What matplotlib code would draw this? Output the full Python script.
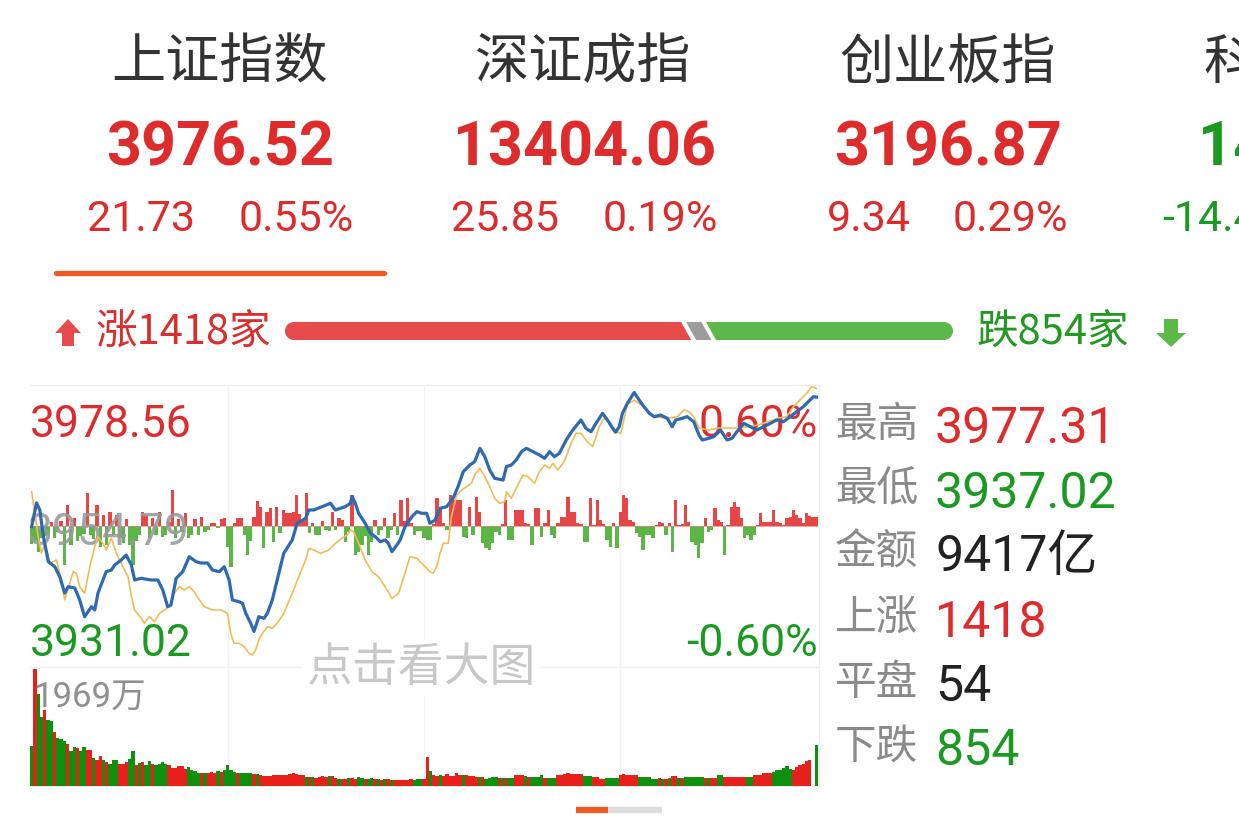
import matplotlib.pyplot as plt
from matplotlib.patches import Polygon, Circle

W, H = 1239, 836
CJK = 'Noto Sans CJK SC'
NUM = ['Roboto', 'Noto Sans CJK SC', 'DejaVu Sans']
plt.rcParams['font.family'] = NUM

RED = '#de2b2b'
GREEN = '#1b9a22'
DARK = '#333333'
GREY = '#8a8a8a'

# ---- header: index quotes ----
titles = ['上证指数', '深证成指', '创业板指', '科创50']
prices = ['3976.52', '13404.06', '3196.87', '1441.85']
changes = ['21.73', '25.85', '9.34', '-14.47']
pcts = ['0.55%', '0.19%', '0.29%', '-0.99%']
quote_up = [True, True, True, False]

# ---- market breadth ----
n_up, n_flat, n_down = 1418, 54, 854

# ---- intraday (minutes 0..240) ----
prev_close = 3954.79
price_hi, price_lo = 3978.56, 3931.02
day_high, day_low = 3977.31, 3937.02
amount = '9417亿'

blue_t = [0, 1.5, 2.5, 3.6, 5.1, 7.1, 8.6, 10.1, 11.2, 13.2, 14.7, 16.2, 18.3, 19.3, 20.3, 22.8, 24.4, 25.4,
          27.4, 28.9, 30.5, 31.5, 33.5, 36.5, 38.6, 40.1, 41.6, 42.6, 44.2, 46.2, 48.2, 50.3, 51.8, 53.8, 55.3,
          57.4, 58.9, 60.4, 61.4, 63.4, 64.5, 65.5, 67.0, 68.0, 69.5, 71.1, 72.1, 73.6, 75.1, 77.1, 79.7, 81.2,
          83.8, 84.8, 86.3, 88.8, 91.4, 92.9, 94.4, 95.9, 97.5, 98.0, 99.0, 100.0, 102.0, 103.6, 105.1, 106.6,
          108.1, 109.1, 110.2, 111.7, 112.7, 114.2, 116.3, 117.8, 119.3, 120.8, 121.8, 123.4, 124.9, 126.9,
          128.9, 130.4, 132.0, 134.0, 135.5, 137.1, 138.6, 140.1, 141.6, 144.2, 145.2, 146.7, 148.2, 149.8,
          151.3, 153.3, 155.3, 156.9, 158.4, 159.9, 161.4, 163.5, 165.5, 168.0, 169.5, 171.1, 172.6, 174.6,
          176.1, 177.7, 178.6, 179.7, 180.7, 182.2, 184.3, 185.8, 187.3, 188.9, 190.4, 192.4, 194.4, 195.9,
          197.0, 199.0, 200.5, 202.5, 204.1, 205.1, 207.1, 208.6, 210.7, 212.7, 214.2, 215.7, 217.8, 219.8,
          221.8, 223.9, 225.9, 227.9, 229.9, 232.0, 234.0, 236.0, 238.1, 239.1, 240]
blue_p = [3954.67, 3958.67, 3957.49, 3952.99, 3948.77, 3947.93, 3946.24, 3943.50, 3944.56, 3944.34, 3942.32,
          3939.50, 3941.19, 3940.63, 3943.50, 3947.09, 3947.37, 3948.22, 3949.06, 3949.90, 3948.22, 3945.69,
          3945.97, 3945.69, 3945.69, 3944.00, 3941.19, 3941.47, 3945.97, 3947.09, 3949.61, 3948.77, 3948.55,
          3948.55, 3947.37, 3947.09, 3947.93, 3945.69, 3942.32, 3942.03, 3941.76, 3940.07, 3938.39, 3937.02,
          3939.50, 3939.23, 3940.07, 3942.32, 3945.69, 3950.19, 3952.43, 3955.25, 3956.09, 3957.49, 3957.49,
          3958.04, 3958.62, 3957.49, 3957.77, 3958.04, 3958.62, 3959.73, 3958.62, 3956.93, 3955.25, 3953.56,
          3952.99, 3952.14, 3952.43, 3951.87, 3950.46, 3951.59, 3952.43, 3954.67, 3956.36, 3957.20, 3956.93,
          3956.93, 3955.25, 3955.80, 3957.77, 3958.04, 3959.46, 3961.42, 3963.94, 3965.07, 3965.63, 3967.89,
          3966.47, 3964.23, 3962.83, 3962.54, 3964.79, 3965.07, 3965.92, 3967.32, 3967.89, 3967.32, 3966.76,
          3966.20, 3967.32, 3966.47, 3967.05, 3969.29, 3970.97, 3972.66, 3971.26, 3970.69, 3972.10, 3973.79,
          3972.66, 3971.26, 3970.60, 3971.53, 3973.79, 3975.47, 3977.31, 3976.03, 3974.90, 3973.79, 3973.22,
          3973.50, 3972.95, 3971.53, 3972.66, 3972.95, 3973.22, 3972.37, 3970.13, 3969.29, 3969.57, 3969.84,
          3970.97, 3969.29, 3969.57, 3970.69, 3972.10, 3971.53, 3970.97, 3971.53, 3972.10, 3972.66, 3972.37,
          3973.22, 3974.06, 3974.90, 3976.03, 3976.59, 3976.52]

yel_t = [0, 1.0, 2.0, 3.0, 4.1, 5.6, 7.6, 9.1, 10.1, 11.2, 12.7, 13.7, 14.7, 16.2, 17.8, 19.3, 20.3, 21.8, 22.8,
         24.4, 25.9, 27.9, 29.5, 30.5, 31.5, 33.5, 34.5, 36.0, 37.6, 39.1, 40.6, 42.1, 43.6, 45.2, 46.7, 48.2,
         49.7, 51.3, 52.8, 55.3, 57.9, 59.9, 60.9, 61.9, 63.4, 65.0, 66.5, 67.5, 68.5, 69.5, 70.6, 72.1, 73.6,
         75.1, 77.1, 79.7, 81.7, 83.8, 84.8, 86.3, 88.3, 90.9, 92.9, 94.9, 96.5, 97.5, 98.5, 100.0, 102.0,
         104.1, 106.1, 108.1, 110.2, 112.2, 114.2, 115.7, 117.8, 120.3, 121.8, 122.8, 123.9, 124.9, 125.9,
         127.4, 128.4, 130.0, 131.5, 133.0, 134.5, 135.5, 137.1, 138.6, 140.1, 141.6, 143.1, 144.7, 145.2,
         146.7, 148.2, 150.2, 151.8, 153.8, 155.3, 156.9, 158.4, 159.4, 160.9, 162.9, 165.0, 166.5, 168.0,
         169.5, 171.6, 173.6, 175.1, 176.6, 178.7, 180.2, 182.2, 184.3, 187.3, 190.4, 194.4, 197.5, 199.5,
         201.0, 202.5, 204.1, 207.1, 210.2, 216.2, 222.3, 228.4, 230.9, 233.0, 235.0, 237.0, 238.6, 240]
yel_p = [3960.57, 3956.93, 3952.99, 3950.19, 3951.87, 3948.50, 3949.06, 3945.69, 3942.32, 3944.29, 3947.09,
         3946.82, 3944.56, 3943.44, 3947.93, 3951.30, 3952.99, 3951.87, 3950.74, 3952.72, 3950.19, 3947.93,
         3946.24, 3942.87, 3940.63, 3939.23, 3938.39, 3939.50, 3938.66, 3940.07, 3940.63, 3941.19, 3943.44,
         3944.56, 3944.00, 3944.56, 3943.71, 3942.32, 3941.19, 3940.63, 3940.63, 3940.07, 3936.70, 3935.02,
         3935.02, 3934.44, 3933.33, 3933.04, 3933.89, 3935.57, 3936.70, 3937.81, 3937.54, 3938.39, 3940.07,
         3943.44, 3946.24, 3949.06, 3951.03, 3950.74, 3950.19, 3950.74, 3951.87, 3952.72, 3953.27, 3954.12,
         3953.83, 3951.87, 3949.06, 3947.09, 3946.24, 3944.56, 3942.60, 3943.44, 3946.82, 3949.61, 3949.34,
         3947.93, 3947.09, 3946.82, 3947.93, 3950.19, 3951.87, 3951.87, 3956.36, 3960.02, 3960.86, 3961.42,
         3961.99, 3963.39, 3964.52, 3963.10, 3961.42, 3959.46, 3958.62, 3958.89, 3960.57, 3959.46, 3961.15,
         3963.39, 3963.10, 3961.99, 3963.94, 3965.07, 3964.52, 3965.36, 3964.23, 3965.63, 3968.73, 3970.42,
         3970.42, 3969.29, 3968.16, 3971.53, 3972.95, 3972.37, 3970.69, 3970.42, 3975.30, 3976.03, 3974.85,
         3973.17, 3972.95, 3973.22, 3974.35, 3974.06, 3973.22, 3971.31, 3970.97, 3971.31, 3971.31, 3971.82,
         3973.00, 3973.22, 3974.90, 3976.03, 3977.16, 3978.27, 3978.00]

# red/green strength bars around the zero line, one per minute
flow = [-18, -15, -26, -12, -10, -9, 4, -12, -6, 5, -39, 21, -19, 8, -15, -10, -8, 33, -9, -13,
        21, -21, 11, -19, 14, -9, 11, -12, -17, 7, -19, -39, -15, -9, 14, 11, -12, 8, -9, 14,
        -11, -9, 4, 36, -12, 7, -6, 13, -12, -9, 7, -9, 9, -6, -4, 3, 3, -2, 7,
        8, -21, -41, 3, 8, 8, -9, -29, -15, 9, 25, 19, -22, 14, 18, -16, 19, -7, 16, 13,
        13, 14, 31, 12, 5, 33, -7, 3, -9, -9, 5, -4, -5, 14, -4, 8, 6, -16, -6, 31,
        -29, -26, -19, -10, -29, -16, 6, -9, -4, 8, -12, -4, 13, -9, 26, 5, 28, 3, -9, -5,
        -5, -12, -14,
        -14, 2, 28, 19, 3, -4, 31, 26, 26, 26, -11, -12, 19, -9, 29, 14, -17, -22, -24, -17,
        -6, -9, 2, 26, -14, -14, 16, 16, 16, 3, 2, -19, 18, 18, -11, 3, 16, -9, -12, 3,
        9, 9, 29, 14, 14, 3, 2, -16, -16, 28, 1, 26, 6, 2, -14, -21, 3, -22, 14,
        31, 28, 6, 4, -7, -11, -24, -9, -9, -12, 1, 4, 3, -9, 3, -26, 26, 1, 2, 21,
        4, -16, -19, -32, -17, 8, -6, -4, 18, 6, 4, -29, 1, 19, 24, 19, 8, -12, -9, -14,
        -9, 1, 13, 4, 4, 4, 16, 4, 3, 1, 8, 9, 16, 11, 8, 3, 13, 10, 9, 9]

# per-minute volume (万手)
volume = [676, 1969, 1543, 1165, 1278, 1109, 1092, 912, 800, 788,
          754, 715, 585, 659, 642, 585, 659, 602, 602, 479,
          433, 501, 445, 405, 377, 433, 445, 377, 377, 405,
          450, 585, 349, 388, 405, 349, 422, 377, 349, 366,
          405, 377, 349, 310, 310, 332, 332, 293, 321, 276,
          253, 225, 225, 225, 225, 236, 225, 248, 236, 265,
          360, 276, 236, 220, 225, 225, 220, 220, 197, 197,
          180, 163, 163, 175, 180, 180, 191, 191, 186, 203,
          225, 203, 191, 180, 158, 152, 152, 141, 152, 163,
          158, 169, 163, 135, 124, 113, 124, 135, 135, 124,
          152, 141, 113, 113, 135, 113, 124, 107, 124, 124,
          107, 107, 107, 107, 107, 96, 113, 107, 113,
          113, 124, 490, 253, 180, 175, 180, 170, 197, 163,
          163, 225, 180, 185, 180, 175, 163, 152, 152, 152,
          124, 130, 152, 152, 130, 135, 130, 135, 130, 191,
          180, 180, 175, 152, 152, 152, 158, 180, 141, 141,
          141, 141, 191, 191, 208, 220, 208, 208, 203, 197,
          169, 169, 169, 152, 152, 124, 124, 141, 141, 141,
          141, 191, 208, 191, 180, 180, 180, 152, 152, 152,
          152, 124, 124, 130, 124, 124, 130, 163, 163, 141,
          135, 152, 152, 152, 152, 152, 152, 135, 135, 135,
          141, 180, 180, 152, 152, 152, 152, 152, 152, 152,
          152, 152, 191, 191, 191, 220, 220, 220, 236, 265,
          265, 300, 332, 293, 276, 321, 349, 377, 420, 445,
          0, 687]
vol_dir = ('grggrggrgg' 'grggrggrrg' 'rrgrgggrrr' 'ggrgrggrgg' 'ggrrrrrrgg' 'ggrgrrrgrg'
           'gggrggggrg' 'rrrrrrrrrr' 'rrrrgrgrrr' 'rgrrgrrgrr' 'ggrggrgrgr' 'grrrrrrggg'
           'rrgrrgrrrr' 'rrgrrrrgrg' 'gggrgrggrr' 'rgrggggrgg' 'grrrrrrrrg' 'ggrrrrgggg'
           'rrrrrrgggg' 'ggrgrgrrgr' 'ggggggrgrr' 'ggrrrrrrrg' 'grrrrrrggg' 'gggrrrrrrr' 'g')

stat_labels = ['最高', '最低', '金额', '上涨', '平盘', '下跌']
stat_values = [f'{day_high:.2f}', f'{day_low:.2f}', amount, str(n_up), str(n_flat), str(n_down)]
stat_colors = [RED, GREEN, '#222222', RED, '#222222', GREEN]

minutes = list(range(len(flow)))

fig = plt.figure(figsize=(W / 100, H / 100), dpi=100)

# full-figure pixel canvas for text and decorations
bg = fig.add_axes([0, 0, 1, 1], zorder=-1)
bg.set_xlim(0, W)
bg.set_ylim(H, 0)
bg.axis('off')

# header
title_x = [220, 583, 948, 1288]
price_x = [220, 585, 948, 1312]
chg_x = [141, 505, 869, 1162]
pct_x = [296, 660, 1010, 1320]
for i in range(4):
    c = RED if quote_up[i] else GREEN
    bg.text(title_x[i], 63, titles[i], fontsize=39, color=DARK, family=CJK, ha='center', va='center')
    bg.text(price_x[i], 165, prices[i], fontsize=44, color=c, weight='bold', ha='center', va='baseline')
    ha = 'center' if i < 3 else 'left'
    bg.text(chg_x[i], 231, changes[i], fontsize=31, color=c, ha=ha, va='baseline')
    bg.text(pct_x[i], 231, pcts[i], fontsize=31, color=c, ha=ha, va='baseline')
bg.plot([56, 384], [273, 273], color='#ee5a24', lw=3.8, solid_capstyle='round')

# breadth bar
x0, x1, gap, sl = 285, 953, 5, 5
total = n_up + n_flat + n_down
span = x1 - x0 - 2 * gap
r_end = x0 + span * n_up / total
g_start = r_end + gap + span * n_flat / total + gap
yt, yb = 322, 340
rad = (yb - yt) / 2
bg.add_patch(Circle((x0 + rad, 331), rad, color='#e64a4a', lw=0))
bg.add_patch(Polygon([(x0 + rad, yt), (r_end - sl, yt), (r_end + sl, yb), (x0 + rad, yb)], color='#e64a4a', lw=0))
bg.add_patch(Polygon([(r_end + gap - sl, yt), (g_start - gap - sl, yt), (g_start - gap + sl, yb),
                      (r_end + gap + sl, yb)], color='#9c9c9c', lw=0))
bg.add_patch(Polygon([(g_start - sl, yt), (x1 - rad, yt), (x1 - rad, yb), (g_start + sl, yb)], color='#5cb84a', lw=0))
bg.add_patch(Circle((x1 - rad, 331), rad, color='#5cb84a', lw=0))
bg.add_patch(Polygon([(68, 319), (81, 333), (74, 333), (74, 346), (62, 346), (62, 333), (55, 333)],
                     color='#e64a4a', lw=0))
bg.add_patch(Polygon([(1171, 347), (1156, 333), (1164, 333), (1164, 319), (1178, 319), (1178, 333), (1186, 333)],
                     color='#5cb84a', lw=0))
bg.text(96, 332, f'涨{n_up}家', fontsize=30, color='#d9302f', family=CJK, ha='left', va='center')
bg.text(977, 332, f'跌{n_down}家', fontsize=30, color='#219a21', family=CJK, ha='left', va='center')

# chart frame lines
for y in (385, 667, 786):
    bg.plot([30, 819], [y, y], color='#eeeeee', lw=0.9)
bg.plot([819, 819], [385, 786], color='#eeeeee', lw=0.9)

# price labels
bg.text(30, 437, f'{price_hi:.2f}', fontsize=32, color=RED, ha='left', va='baseline')
bg.text(30, 656, f'{price_lo:.2f}', fontsize=32, color=GREEN, ha='left', va='baseline')
pct = (price_hi / prev_close - 1) * 100
bg.text(818, 437, f'{pct:.2f}%', fontsize=32, color=RED, ha='right', va='baseline')
bg.text(818, 656, f'-{pct:.2f}%', fontsize=32, color=GREEN, ha='right', va='baseline')

# right stats
rows_y = [425, 490, 553, 619, 683, 747]
for lab, val, c, y in zip(stat_labels, stat_values, stat_colors, rows_y):
    bg.text(835, y, lab, fontsize=30, color=GREY, family=CJK, ha='left', va='center')
    bg.text(935, y + 18, val, fontsize=36, color=c, ha='left', va='baseline')

# page indicator
bg.plot([608, 662], [810, 810], color='#dddddd', lw=4.5, solid_capstyle='butt')
bg.plot([576, 608], [810, 810], color='#f05a1e', lw=4.5, solid_capstyle='butt')

# price chart
rect_p = [30 / W, 1 - 667 / H, 788 / W, 282 / H]
fax = fig.add_axes(rect_p, zorder=0)
fax.axis('off')
fax.set_xlim(-0.5, 240.5)
fax.set_ylim(-141, 141)
for m in (60, 120, 180):
    fax.axvline(m, color='#f3f3f3', lw=0.9, zorder=0)
fax.bar(minutes, flow, width=1.0, color=['#e64646' if v > 0 else '#5cb646' for v in flow], lw=0, zorder=1)
fax.axhline(0, color='#d88888', lw=0.5, zorder=1)
# previous close label sits above the bars but under the lines
fax.text(28, 545, f'{prev_close:.2f}', fontsize=32, color='#9a9a9a', alpha=0.9, ha='left', va='baseline',
         transform=bg.transData, clip_on=False, zorder=2)

pax = fig.add_axes(rect_p, zorder=1)
pax.axis('off')
pax.set_xlim(-0.5, 240.5)
pax.set_ylim(price_lo, price_hi)
pax.plot(yel_t, yel_p, color='#f0bd55', lw=1.2)
pax.plot(blue_t, blue_p, color='#2e69b3', lw=2.3, solid_joinstyle='round')

# volume chart
vax = fig.add_axes([30 / W, 1 - 786 / H, 788 / W, 117 / H], zorder=0)
vax.axis('off')
vax.set_xlim(-0.5, 240.5)
vax.set_ylim(0, max(volume))
for m in (60, 120, 180):
    vax.axvline(m, color='#f3f3f3', lw=0.9, zorder=0)
vax.bar(range(len(volume)), volume, width=1.0,
        color=['#e8201c' if d == 'r' else '#0d900d' for d in vol_dir], lw=0)

fig.text(33 / W, 1 - 707 / H, f'{max(volume)}万', fontsize=25, color='#8f8f8f', ha='left', va='baseline')
fig.text(421 / W, 1 - 668 / H, '点击看大图', fontsize=33, color='#c8c8c8', family=CJK, ha='center', va='center',
         bbox=dict(facecolor='white', edgecolor='none', pad=3))

fig.savefig('out.png', dpi=100)
